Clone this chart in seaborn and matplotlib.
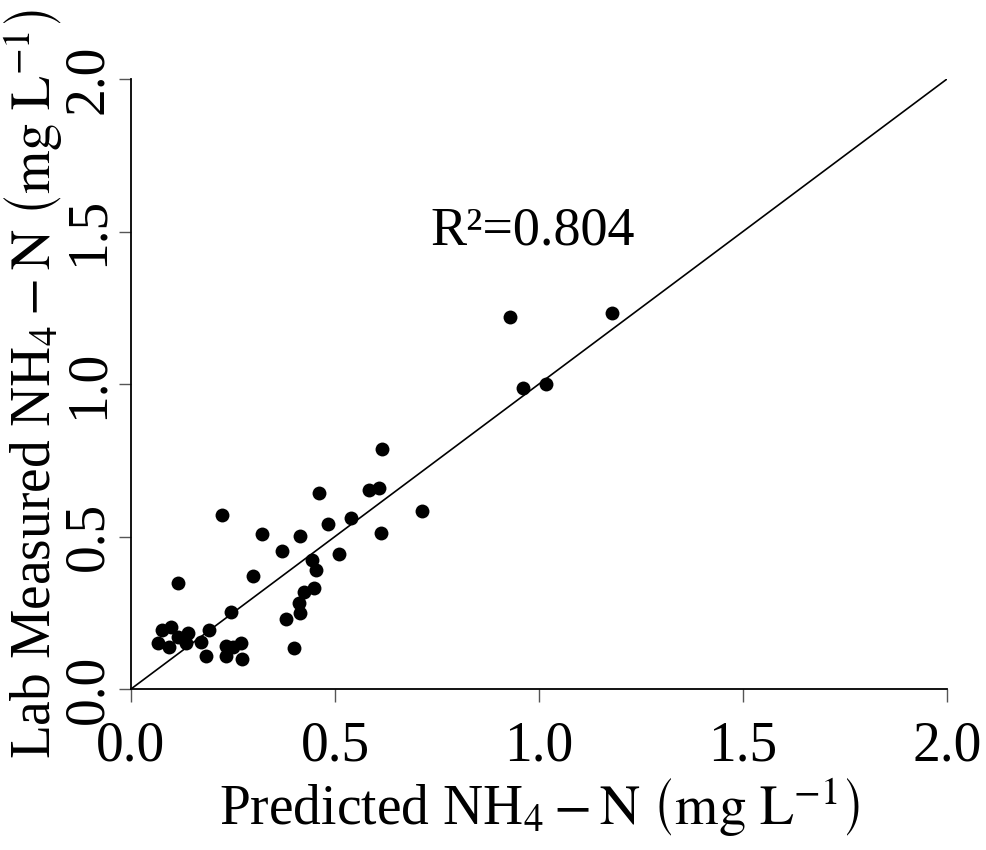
import matplotlib
matplotlib.use("Agg")
import matplotlib.pyplot as plt
import seaborn as sns
import pandas as pd

predicted = [0.067, 0.075, 0.097, 0.092, 0.114, 0.139, 0.135, 0.116, 0.171, 0.192,
             0.185, 0.222, 0.233, 0.251, 0.269, 0.233, 0.271, 0.244, 0.300, 0.322,
             0.369, 0.380, 0.400, 0.414, 0.412, 0.414, 0.424, 0.449, 0.444, 0.454,
             0.462, 0.484, 0.511, 0.539, 0.583, 0.607, 0.614, 0.613, 0.714,
             0.929, 1.180, 0.960, 1.017]
measured = [0.152, 0.193, 0.202, 0.139, 0.171, 0.183, 0.152, 0.349, 0.155, 0.193,
            0.109, 0.571, 0.141, 0.137, 0.150, 0.109, 0.100, 0.253, 0.371, 0.508,
            0.451, 0.230, 0.134, 0.503, 0.281, 0.250, 0.319, 0.330, 0.423, 0.390,
            0.644, 0.541, 0.442, 0.562, 0.652, 0.658, 0.786, 0.510, 0.585,
            1.219, 1.234, 0.986, 1.001]
ticks = [0.0, 0.5, 1.0, 1.5, 2.0]
tick_labels = ["0.0", "0.5", "1.0", "1.5", "2.0"]
r2_text = "R²=0.804"

df = pd.DataFrame({"pred": predicted, "meas": measured})

sns.set_style("white")
plt.rcParams["font.family"] = ["Liberation Serif", "DejaVu Serif"]
plt.rcParams["mathtext.fontset"] = "stix"
plt.rcParams["text.color"] = "black"
plt.rcParams["axes.labelcolor"] = "black"

fig = plt.figure(figsize=(9.86, 8.5), dpi=100)
ax = fig.add_axes([131/986, 1 - 689/850, 816/986, 610/850])

sns.scatterplot(data=df, x="pred", y="meas", ax=ax, color="black", s=100,
                edgecolor="black", linewidth=0, zorder=3, clip_on=False)
ax.axline((0, 0), slope=1, color="black", lw=1.2)

ax.set_xlim(0, 2)
ax.set_ylim(0, 2)
ax.set_xticks(ticks)
ax.set_xticklabels(tick_labels)
ax.set_yticks(ticks)
ax.set_yticklabels(tick_labels, rotation=90, va="center")

for side in ["top", "right"]:
    ax.spines[side].set_visible(False)
for side in ["left", "bottom"]:
    ax.spines[side].set_linewidth(1.3)
    ax.spines[side].set_color("black")

ax.tick_params(axis="both", which="major", direction="out", length=9, width=1.0,
               color="#555555", labelcolor="black", labelsize=40,
               left=True, bottom=True)
ax.tick_params(axis="x", pad=14)
ax.tick_params(axis="y", pad=3)

ax.set_xlabel(r"Predicted NH$_4 - \mathrm{N}\ \left(\mathrm{mg\ L^{-1}}\right)$",
              fontsize=40, labelpad=2)
ax.set_ylabel(r"Lab Measured NH$_4 - \mathrm{N}\ \left(\mathrm{mg\ L^{-1}}\right)$",
              fontsize=40, labelpad=-2)

ax.text(0.985, 1.50, r2_text, fontsize=39, ha="center", va="center")

fig.savefig("out.png", dpi=100)
